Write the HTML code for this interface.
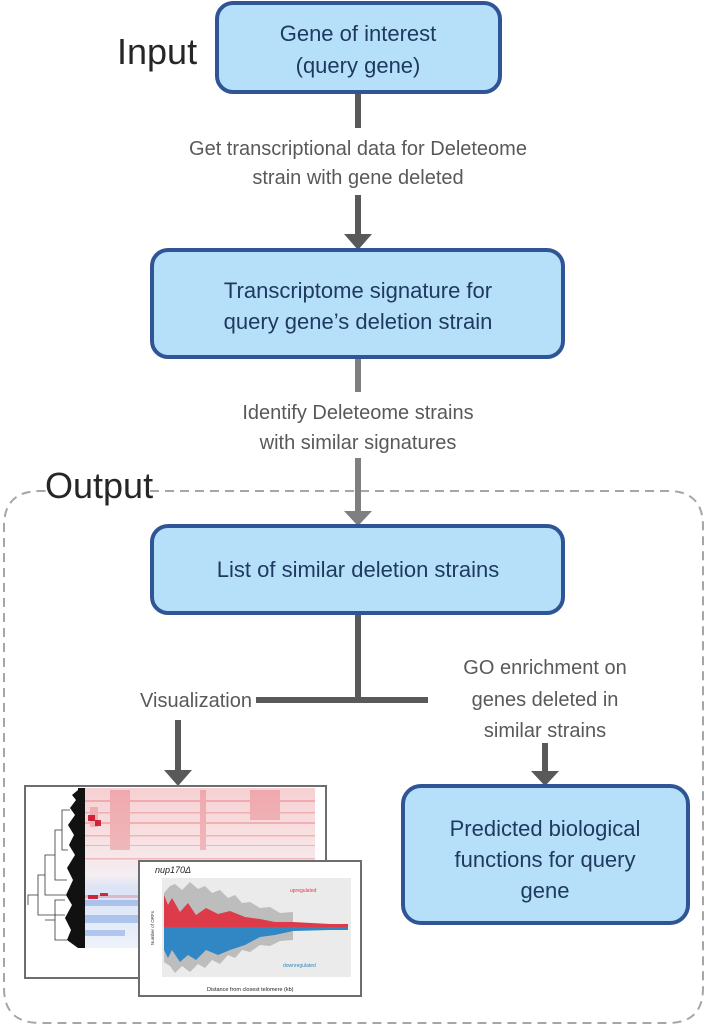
<!DOCTYPE html>
<html><head><meta charset="utf-8"><style>
html,body{margin:0;padding:0;background:#fff}
svg{display:block}
text{font-family:"Liberation Sans",sans-serif}
</style></head><body>
<svg width="706" height="1029" viewBox="0 0 706 1029" xmlns="http://www.w3.org/2000/svg">
<defs>
<linearGradient id="hm" x1="0" y1="0" x2="0" y2="1">
<stop offset="0" stop-color="#f6d0d3"/><stop offset="0.3" stop-color="#f8e0e1"/><stop offset="0.55" stop-color="#f4eef2"/><stop offset="0.62" stop-color="#dbe3f5"/><stop offset="0.8" stop-color="#e2e9f8"/><stop offset="1" stop-color="#eef2fa"/>
</linearGradient>
</defs>
<path d="M150 491 H668 Q703 491 703 526 V988 Q703 1023 668 1023 H40 Q4 1023 4 988 V526 Q4 491 40 491 H46" fill="none" stroke="#a6a6a6" stroke-width="2" stroke-dasharray="9,6"/>
<text x="117" y="64" font-size="36" fill="#262626">Input</text>
<text x="45" y="498" font-size="36" fill="#262626">Output</text>

<g stroke="#595959" stroke-width="6" fill="none">
<line x1="358" y1="92" x2="358" y2="128"/>
<line x1="358" y1="195" x2="358" y2="236"/>
<line x1="358" y1="612" x2="358" y2="700"/>
<line x1="256" y1="700" x2="428" y2="700"/>
<line x1="178" y1="720" x2="178" y2="772"/>
<line x1="545" y1="743" x2="545" y2="773"/>
</g>
<g stroke="#7f7f7f" stroke-width="6">
<line x1="358" y1="357" x2="358" y2="392"/>
<line x1="358" y1="458" x2="358" y2="512"/>
</g>
<g fill="#595959">
<polygon points="344,234 372,234 358,250"/>
<polygon points="164,770 192,770 178,786"/>
<polygon points="531,771 559,771 545,786"/>
</g>
<polygon points="344,511 372,511 358,526" fill="#7f7f7f"/>

<g fill="#b6e0fa" stroke="#2f5597" stroke-width="4">
<rect x="217" y="3" width="283" height="89" rx="16"/>
<rect x="152" y="250" width="411" height="107" rx="16"/>
<rect x="152" y="526" width="411" height="87" rx="16"/>
<rect x="403" y="786" width="285" height="137" rx="18"/>
</g>
<g font-size="22" fill="#1f3a60" text-anchor="middle">
<text x="358" y="41">Gene of interest</text>
<text x="358" y="73">(query gene)</text>
<text x="358" y="298">Transcriptome signature for</text>
<text x="358" y="329">query gene’s deletion strain</text>
<text x="358" y="577">List of similar deletion strains</text>
<text x="545" y="836">Predicted biological</text>
<text x="545" y="867">functions for query</text>
<text x="545" y="898">gene</text>
</g>
<g font-size="20" fill="#595959" text-anchor="middle">
<text x="358" y="155">Get transcriptional data for Deleteome</text>
<text x="358" y="184">strain with gene deleted</text>
<text x="358" y="419">Identify Deleteome strains</text>
<text x="358" y="449">with similar signatures</text>
<text x="196" y="707">Visualization</text>
<text x="545" y="674">GO enrichment on</text>
<text x="545" y="706">genes deleted in</text>
<text x="545" y="737">similar strains</text>
</g>

<rect x="25" y="786" width="301" height="192" fill="#fff" stroke="#6d6d6d" stroke-width="2"/>
<rect x="85" y="788" width="230" height="160" fill="url(#hm)"/>
<g fill="#e0505a" opacity="0.3">
<rect x="85" y="800" width="230" height="2"/><rect x="85" y="812" width="230" height="1.5"/><rect x="85" y="822" width="230" height="2"/>
<rect x="85" y="835" width="230" height="1.5"/><rect x="85" y="845" width="230" height="1"/><rect x="85" y="858" width="230" height="1.5"/>
<rect x="85" y="895" width="120" height="3"/><rect x="90" y="807" width="8" height="20"/><rect x="200" y="790" width="6" height="60"/>
<rect x="250" y="790" width="30" height="30"/><rect x="110" y="790" width="20" height="60"/>
</g>
<g fill="#c8001a" opacity="0.8"><rect x="88" y="815" width="7" height="6"/><rect x="95" y="820" width="6" height="6"/><rect x="88" y="895" width="10" height="4"/><rect x="100" y="893" width="8" height="3"/></g>
<g fill="#4a7fd8" opacity="0.35"><rect x="85" y="900" width="80" height="6"/><rect x="85" y="915" width="60" height="8"/><rect x="85" y="930" width="40" height="6"/></g>
<rect x="78" y="788" width="7" height="160" fill="#111"/>
<path d="M78 790 L72 795 L76 800 L70 808 L75 815 L68 825 L74 835 L69 845 L75 855 L67 868 L73 880 L66 895 L72 905 L65 918 L71 930 L67 940 L78 948 Z" fill="#111"/>
<g stroke="#333" stroke-width="0.8" fill="none">
<path d="M70 810 H62 V850 H68 M62 830 H55 V880 H67 M55 855 H45 V895 H66 M45 875 H38 V915 H65 M38 895 H28 V905"/>
<path d="M65 900 H55 V940 H67 M55 920 H45"/>
</g>
<text x="320" y="860" font-size="5" fill="#444" transform="rotate(90 320 860)">signature</text>

<rect x="139" y="861" width="222" height="135" fill="#fff" stroke="#6d6d6d" stroke-width="2"/>
<text x="155" y="873" font-size="9" font-style="italic" fill="#222">nup170Δ</text>
<rect x="162" y="878" width="189" height="99" fill="#ebebeb"/>
<polygon points="164,893 170,886 175,884 182,890 190,882 198,889 205,886 212,893 220,890 228,898 235,895 242,903 250,902 260,908 270,907 280,913 293,912 293,940 280,941 270,946 260,945 250,952 242,950 235,958 228,955 220,964 212,960 205,968 198,964 190,972 182,966 175,973 170,966 164,962" fill="#bdbdbd"/>
<polygon points="164,895 168,905 172,898 180,912 188,903 196,915 206,908 218,914 230,911 245,917 260,919 275,922 293,922 330,924 348,924 348,927 164,927" fill="#dd3b4a"/>
<polygon points="164,927 348,927 348,930 330,930 293,931 275,935 260,937 245,945 230,950 218,955 206,950 196,960 188,955 180,962 172,950 168,958 164,950" fill="#3187c3"/>
<text x="290" y="892" font-size="5" fill="#dd3b4a">upregulated</text>
<text x="283" y="967" font-size="5" fill="#3187c3">downregulated</text>
<text x="207" y="991" font-size="5.5" fill="#222">Distance from closest telomere (kb)</text>
<text x="154" y="945" font-size="4.5" fill="#333" transform="rotate(-90 154 945)">Number of ORFs</text>
</svg>
</body></html>
